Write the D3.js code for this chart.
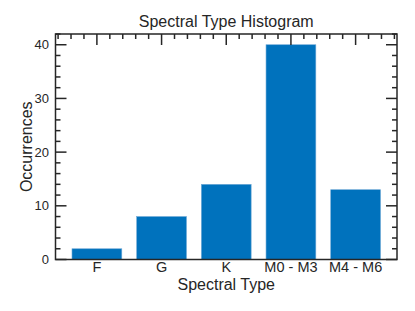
<!DOCTYPE html>
<html>
<head>
<meta charset="utf-8">
<script src="https://cdn.jsdelivr.net/npm/d3@7"></script>
<style>
  body { margin: 0; background: #fff; }
  text { font-family: "Liberation Sans", Arial, sans-serif; fill: #262626; }
</style>
</head>
<body>
<div id="chart"></div>
<script>
// data
const categories = ["F", "G", "K", "M0 - M3", "M4 - M6"];
const counts = [2, 8, 14, 40, 13];
const yTicks = [0, 10, 20, 30, 40];

// set the dimensions and margins of the graph
const margin = {top: 34, right: 18, bottom: 51.5, left: 55.5},
  width = 415 - margin.left - margin.right,
  height = 311 - margin.top - margin.bottom;

const svg = d3.select("#chart")
  .append("svg")
  .attr("width", 415)
  .attr("height", 311)
  .append("g")
  .attr("transform", `translate(${margin.left},${margin.top})`);

// X scale: one band per spectral type
const x = d3.scaleBand()
  .domain(categories)
  .range([0, width])
  .paddingInner(0.23)
  .paddingOuter(0.255);

// linear helper on category index, for the minor ticks on top
const xi = d3.scaleLinear()
  .domain([1, categories.length])
  .range([x(categories[0]) + x.bandwidth() / 2, x(categories[categories.length - 1]) + x.bandwidth() / 2]);

const y = d3.scaleLinear()
  .domain([0, 42])
  .range([height, 0]);

const ink = "#262626";

// bars
svg.selectAll(".bar")
  .data(categories.map((c, i) => ({cat: c, n: counts[i]})))
  .join("rect")
  .attr("class", "bar")
  .attr("x", d => x(d.cat))
  .attr("width", x.bandwidth())
  .attr("y", d => y(d.n))
  .attr("height", d => y(0) - y(d.n))
  .attr("fill", "#0072BD")
  .attr("stroke", "#6fa9d6")
  .attr("stroke-width", 0.6);

// frame
svg.append("rect")
  .attr("x", 0).attr("y", 0)
  .attr("width", width).attr("height", height)
  .attr("fill", "none")
  .attr("stroke", ink)
  .attr("stroke-width", 1.5);

// left + right y ticks, pointing inwards
const yMinor = d3.range(0, 42.01, 2);
const ySide = svg.append("g").attr("stroke", ink).attr("stroke-width", 1.5);
yMinor.forEach(v => {
  const len = v % 10 === 0 ? 11 : 5;
  ySide.append("line").attr("x1", 0).attr("x2", len).attr("y1", y(v)).attr("y2", y(v));
  ySide.append("line").attr("x1", width).attr("x2", width - len).attr("y1", y(v)).attr("y2", y(v));
});

// top x ticks (major at categories, minor every 0.2)
const xMinor = d3.range(0.4, 5.61, 0.2);
const xTop = svg.append("g").attr("stroke", ink).attr("stroke-width", 1.5);
xMinor.forEach(v => {
  const major = Math.abs(v - Math.round(v)) < 1e-6;
  xTop.append("line")
    .attr("x1", xi(v)).attr("x2", xi(v))
    .attr("y1", 0).attr("y2", major ? 11 : 5);
});

// y tick labels
const yAxis = svg.append("g")
  .call(d3.axisLeft(y).tickValues(yTicks).tickSize(0).tickPadding(6.5));
yAxis.select(".domain").remove();
yAxis.selectAll("text")
  .attr("font-size", "13px")
  .attr("font-family", "Liberation Sans, Arial, sans-serif")
  .attr("fill", ink);

// x tick labels
const xAxis = svg.append("g")
  .attr("transform", `translate(0,${height})`)
  .call(d3.axisBottom(x).tickSize(0));
xAxis.select(".domain").remove();
xAxis.selectAll("text")
  .attr("y", 12.5)
  .attr("dy", 0)
  .attr("font-size", "14.5px")
  .attr("font-family", "Liberation Sans, Arial, sans-serif")
  .attr("fill", ink);

// axis labels
svg.append("text")
  .attr("x", width / 2)
  .attr("y", height + 30.5)
  .attr("text-anchor", "middle")
  .attr("font-size", "16px")
  .text("Spectral Type");

svg.append("text")
  .attr("transform", "rotate(-90)")
  .attr("x", -height / 2)
  .attr("y", -24)
  .attr("text-anchor", "middle")
  .attr("font-size", "16px")
  .text("Occurrences");

// title
svg.append("text")
  .attr("x", width / 2)
  .attr("y", -7)
  .attr("text-anchor", "middle")
  .attr("font-size", "16px")
  .text("Spectral Type Histogram");
</script>
</body>
</html>
